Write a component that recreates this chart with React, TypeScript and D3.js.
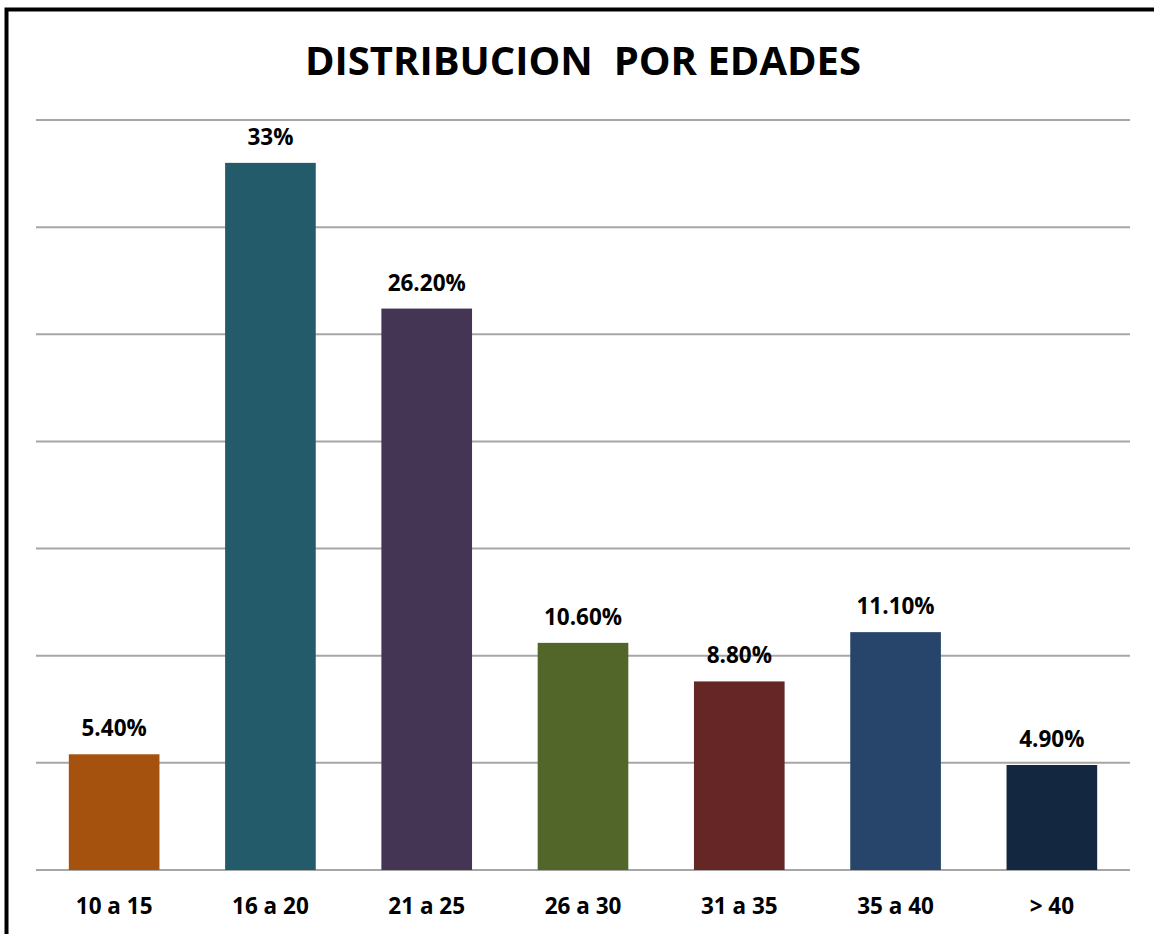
import React, { useEffect, useRef } from 'react';
import * as d3 from 'd3';

const categories = ['10 a 15', '16 a 20', '21 a 25', '26 a 30', '31 a 35', '35 a 40', '> 40'];
const values = [5.4, 33, 26.2, 10.6, 8.8, 11.1, 4.9];
const valueLabels = ['5.40%', '33%', '26.20%', '10.60%', '8.80%', '11.10%', '4.90%'];
const colors = ['#a5520f', '#245b6b', '#433553', '#536629', '#672626', '#27446a', '#142740'];
const gridTicks = [0, 5, 10, 15, 20, 25, 30, 35];

function App() {
    const svgRef = useRef<SVGSVGElement | null>(null);

    useEffect(() => {
        if (!svgRef.current) return;
        const svg = d3.select(svgRef.current);
        svg.selectAll('*').remove();

        const width = 1154;
        const height = 934;
        const font = '"Open Sans", Lato, sans-serif';

        svg.append('rect')
            .attr('width', width)
            .attr('height', height)
            .attr('fill', '#fff');

        // frame, partly cut off at right and bottom
        svg.append('rect')
            .attr('x', 6.5)
            .attr('y', 9.5)
            .attr('width', width + 20)
            .attr('height', height + 20)
            .attr('fill', 'none')
            .attr('stroke', '#000')
            .attr('stroke-width', 4);

        svg.append('text')
            .attr('x', 583)
            .attr('y', 75)
            .attr('text-anchor', 'middle')
            .style('font-family', font)
            .style('font-weight', 'bold')
            .style('font-size', '40px')
            .style('white-space', 'pre')
            .style('fill', '#000')
            .text('DISTRIBUCION  POR EDADES');

        const x = d3.scaleBand<string>()
            .domain(categories)
            .range([36, 1130])
            .paddingInner(0.42)
            .paddingOuter(0.21);

        const y = d3.scaleLinear()
            .domain([0, 35])
            .range([870, 120]);

        svg.append('g')
            .selectAll('line')
            .data(gridTicks)
            .join('line')
            .attr('x1', 36)
            .attr('x2', 1130)
            .attr('y1', d => y(d))
            .attr('y2', d => y(d))
            .attr('stroke', '#a6a6a6')
            .attr('stroke-width', 2);

        const data = categories.map((c, i) => ({ c, v: values[i], label: valueLabels[i], color: colors[i] }));

        svg.append('g')
            .selectAll('rect')
            .data(data)
            .join('rect')
            .attr('x', d => x(d.c) as number)
            .attr('y', d => y(d.v))
            .attr('width', x.bandwidth())
            .attr('height', d => y(0) - y(d.v))
            .attr('fill', d => d.color);

        svg.append('g')
            .selectAll('text')
            .data(data)
            .join('text')
            .attr('x', d => (x(d.c) as number) + x.bandwidth() / 2)
            .attr('y', d => y(d.v) - 18)
            .attr('text-anchor', 'middle')
            .style('font-family', font)
            .style('font-weight', 'bold')
            .style('font-size', '22.5px')
            .style('fill', '#000')
            .text(d => d.label);

        svg.append('g')
            .selectAll('text')
            .data(data)
            .join('text')
            .attr('x', d => (x(d.c) as number) + x.bandwidth() / 2)
            .attr('y', 914)
            .attr('text-anchor', 'middle')
            .style('font-family', font)
            .style('font-weight', 'bold')
            .style('font-size', '22.5px')
            .style('fill', '#000')
            .text(d => d.c);
    }, []);

    return (
        <svg ref={svgRef} width={1154} height={934} style={{ position: 'absolute', left: 0, top: 0 }}></svg>
    );
}

export default App;
